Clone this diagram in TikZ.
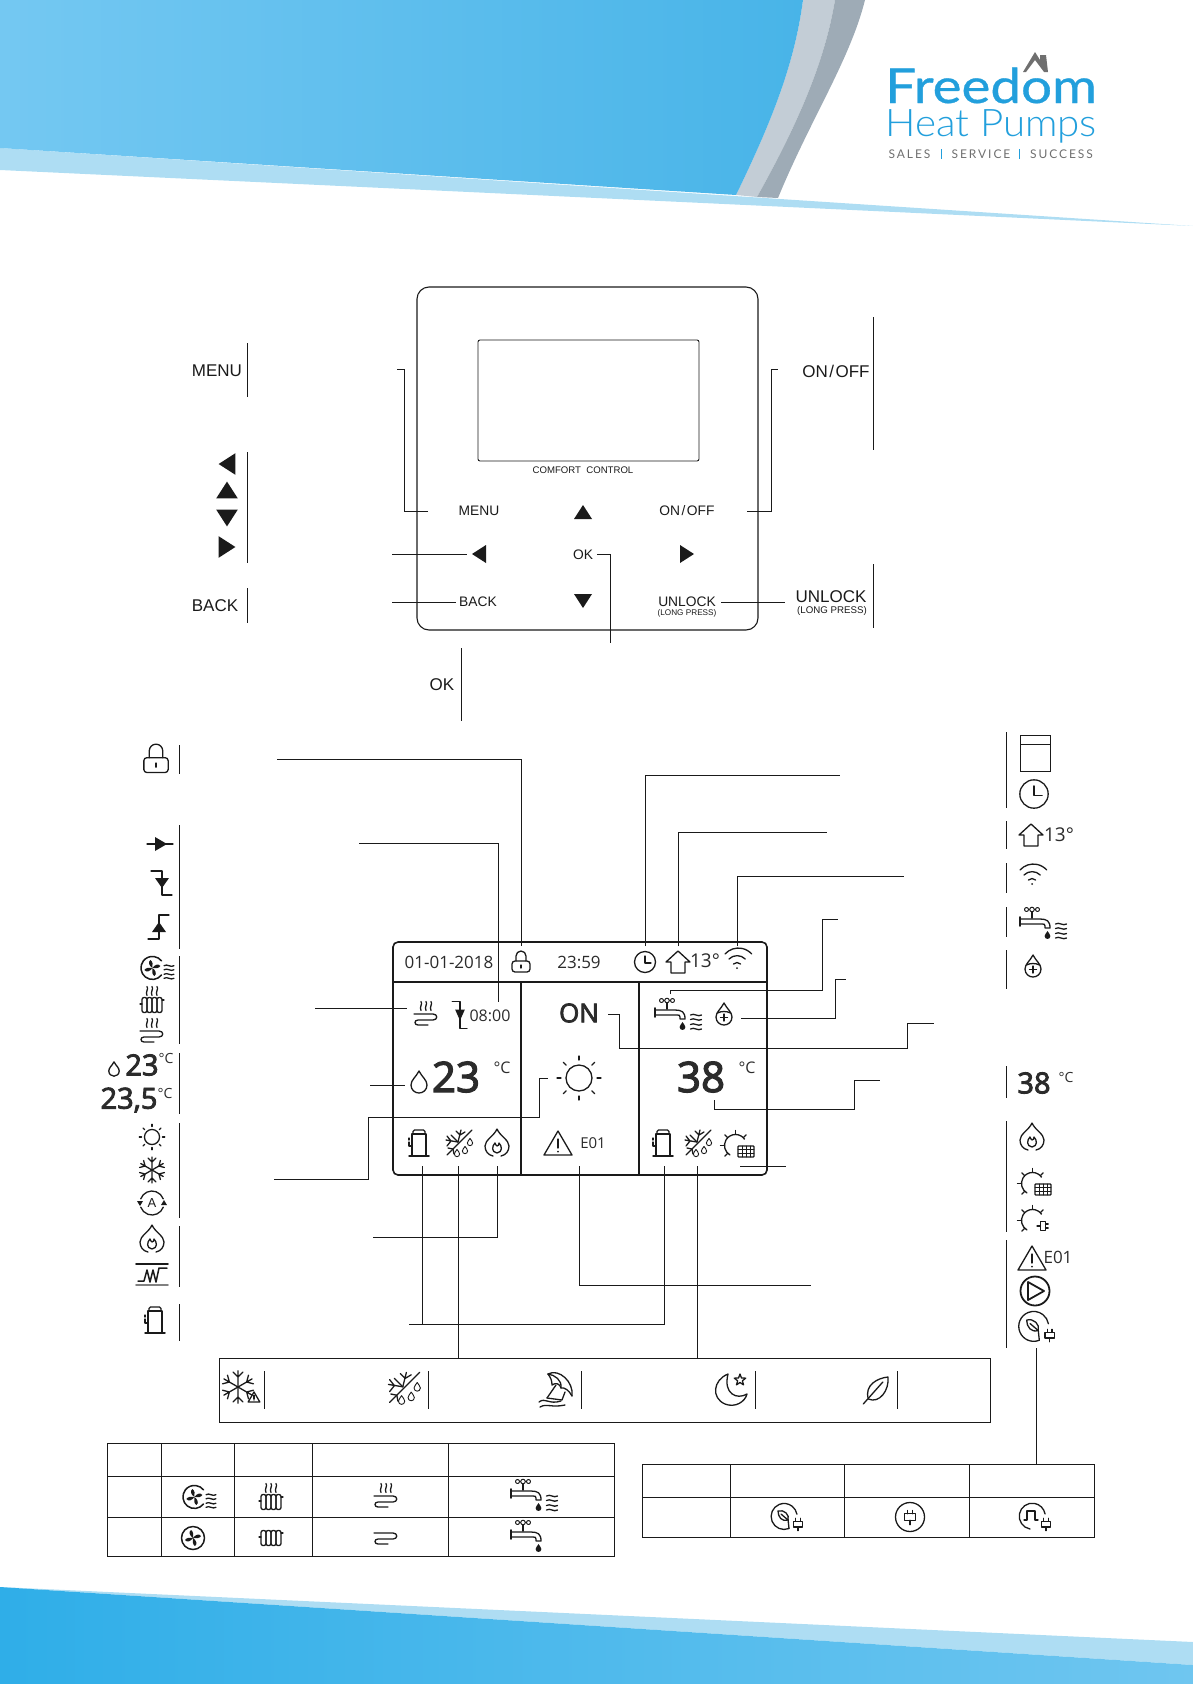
\documentclass[tikz,border=0pt]{standalone}
\usepackage{fontspec}
\setmainfont{Liberation Sans}
\newfontfamily\dispfont{Open Sans}
\newfontfamily\dispsemi[FakeBold=3]{Open Sans}
\newfontfamily\logofont[FakeBold=.6]{Lato}
\newfontfamily\logolight{Lato Light}
\newfontfamily\slogfont[LetterSpace=16]{Lato}
\definecolor{ink}{HTML}{1A1A1A}
\definecolor{lcdink}{HTML}{2B2B2B}
\definecolor{logoblue}{HTML}{229FDC}
\definecolor{logogrey}{HTML}{6F6F6F}
\definecolor{bandblue}{HTML}{AEDDF3}
\definecolor{greylight}{HTML}{C3CDD6}
\definecolor{greydark}{HTML}{9EABB6}
\definecolor{headleft}{HTML}{74C8F2}
\definecolor{headmid}{HTML}{66C3EF}
\definecolor{headright}{HTML}{48B4E8}
\definecolor{footleft}{HTML}{2FAEE8}
\definecolor{footright}{HTML}{6FC6F0}
\newcommand{\droppath}{(0,-11) .. controls (3,-5) and (8,-2) .. (8,3) .. controls (8,8) and (4,11) .. (0,11) .. controls (-4,11) and (-8,8) .. (-8,3) .. controls (-8,-2) and (-3,-5) .. cycle}

\tikzset{
    every pic/.style={color=ink, line width=1.3pt, line join=round, line cap=round},
    triup/.pic={\fill (-9,7) -- (0,-7) -- (9,7) -- cycle;},
    lockicon/.pic={
        \draw (-5,-1) -- (-5,-6) arc[start angle=180, end angle=360, radius=5] -- (5,-1);
        \draw[rounded corners=3pt] (-9,-1) -- (9,-1) -- (9,10) -- (-9,10) -- cycle;
        \draw (0,3) -- (0,6);
    },
    clockicon/.pic={
        \draw (0,0) circle[radius=10.5];
        \draw (0,-6) -- (0,1) -- (6,1);
    },
    houseicon/.pic={\draw (-12,0) -- (0,-11) -- (12,0) -- (7,0) -- (7,11) -- (-7,11) -- (-7,0) -- cycle;},
    wifiicon/.pic={
        \draw (-12,-7) arc[start angle=222, end angle=318, radius=18];
        \draw (-8,-2) arc[start angle=225, end angle=315, radius=11.5];
        \draw (-3.5,3) arc[start angle=225, end angle=315, radius=5];
        \fill (0,7) circle[radius=1];
    },
    wavelets/.pic={
        \foreach \wy in {-7,-2.5,2.5,7}
            \draw (-5.5,\wy) .. controls (-2,\wy-2.5) and (2,\wy+2.5) .. (5.5,\wy);
    },
    tapplain/.pic={
        \draw (-13.5,-14.5) -- (-2.5,-14.5);
        \draw[fill=white, line width=1pt] (-13.5,-14.5) circle[radius=2] (-8,-14.5) circle[radius=2.3] (-2.5,-14.5) circle[radius=2];
        \draw[line width=1.8pt] (-8,-12) -- (-8,-6);
        \draw (-19,-5) -- (0,-5) .. controls (7,-5) and (10,-3) .. (10,4) -- (5,4) -- (5,2) .. controls (5,0) and (4,0) .. (2,0) -- (-19,0);
        \draw[line width=1.8pt] (-20,-7) -- (-20,2);
        \fill[shift={(7.5,11)}, scale=.36] \droppath;
    },
    tapicon/.pic={
        \pic at (0,0) {tapplain};
        \pic at (21,7) {wavelets};
    },
    dropicon/.pic={\draw \droppath;},
    dropplus/.pic={
        \draw \droppath;
        \draw (-6.5,-1) .. controls (-3,-3) and (3,-3) .. (6.5,-1);
        \draw (0,0) -- (0,7) (-3.5,3.5) -- (3.5,3.5);
    },
    sunicon/.pic={
        \draw (0,0) circle[radius=13];
        \foreach \a in {0,45,...,315}
            \draw[rotate=\a] (18,0) -- (22,0);
    },
    snowflake/.pic={
        \foreach \a in {30,90,...,330}
            \draw[rotate=\a] (0,0) -- (13,0) (8,0) -- (12,-4) (8,0) -- (12,4);
    },
    defrost/.pic={
        \draw (-12,12) -- (13,-13);
        \draw (-1,-1) -- (2,-13) (1,-8) -- (-3,-12) (1,-8) -- (6,-11);
        \draw (-1,-1) -- (-13,-3) (-8,-2) -- (-12,-7) (-8,-2) -- (-12,3);
        \draw (-1,-1) -- (-8,-8);
        \draw (-6,6) -- (-11,5) (-6,6) -- (-5,11);
        \draw[shift={(11,-1)}, scale=.33, line width=.9pt] \droppath;
        \draw[shift={(6,7)}, scale=.33, line width=.9pt] \droppath;
        \draw[shift={(-2,10)}, scale=.33, line width=.9pt] \droppath;
    },
    flameicon/.pic={
        \draw (-4,13) .. controls (-9,12) and (-12,8) .. (-12,3) .. controls (-12,-3) and (-3,-7) .. (0,-14) .. controls (3,-7) and (12,-3) .. (12,3) .. controls (12,8) and (9,12) .. (4,13);
        \draw (-2,0) .. controls (-5,3) and (-6,9) .. (0,10) .. controls (6,9) and (5,3) .. (2,0) .. controls (2,2) and (1,3) .. (0,3) .. controls (-1,2) and (-2,1) .. (-2,0);
    },
    compressor/.pic={
        \draw[line width=1.5pt] (-10,13) -- (10,13);
        \draw (-7,13) -- (-7,-9) -- (7,-9) -- (7,13);
        \draw[rounded corners=1.5pt] (-6,-9) -- (-6,-13) -- (6,-13) -- (6,-9);
        \draw (-10,-5) -- (-10,-3) (-10,-1) -- (-10,3) -- (-7,3);
    },
    sunarc/.pic={
        \draw (-7,12) arc[start angle=120, end angle=325, radius=11];
        \foreach \a in {135,180,225,270,315}
            \draw[shift={(-1.5,2.5)}, rotate=-\a] (11,0) -- (15,0);
    },
    solaricon/.pic={
        \pic at (-1,0) {sunarc};
        \draw[rounded corners=.8pt, fill=white] (0,3) rectangle (16,14);
        \draw[line width=.8pt] (0,6.7) -- (16,6.7) (0,10.3) -- (16,10.3) (4,3) -- (4,14) (8,3) -- (8,14) (12,3) -- (12,14);
    },
    plugicon/.pic={
        \draw (-2.5,-6) -- (-2.5,-3) (2.5,-6) -- (2.5,-3) (0,3) -- (0,7);
        \draw (-5,-3) rectangle (5,3);
    },
    sunplug/.pic={
        \pic at (-1,0) {sunarc};
        \pic[rotate=-90, scale=.85, line width=1pt] at (8,8) {plugicon};
    },
    warnicon/.pic={
        \draw (-14,12) -- (0,-12) -- (14,12) -- cycle;
        \draw (0,-4) -- (0,5);
        \fill (0,8.5) circle[radius=1];
    },
    pumpicon/.pic={
        \draw[line width=1.8pt] (0,0) circle[radius=14.5];
        \draw[line width=1.8pt] (-7,-9) -- (9,0) -- (-7,9) -- cycle;
    },
    leafplug/.pic={
        \draw (2,11.5) arc[start angle=68, end angle=350, radius=13] ;
        \draw (2,11.5) -- (1,2);
        \draw (-9,-6) .. controls (-3,-8) and (3,-2) .. (1,3) .. controls (-5,5) and (-9,0) .. (-9,-6) -- cycle;
        \draw (-6,-3) -- (1,3);
        \pic[scale=.95] at (11,7) {plugicon};
    },
    bareplug/.pic={
        \draw (0,0) circle[radius=14.5];
        \pic[scale=1.1] at (0,0) {plugicon};
    },
    pulseplug/.pic={
        \draw (-3,12) arc[start angle=100, end angle=350, radius=13];
        \draw (-9,3) -- (-6,3) -- (-6,-6) -- (2,-6) -- (2,3) -- (5,3);
        \pic[scale=.95] at (13,7) {plugicon};
    },
    fanblades/.pic={
        \foreach \a in {0,90,180,270}
            \fill[rotate=\a] (0,0) .. controls (2,-3) and (6,-5) .. (8,-2) .. controls (7,0) and (3,1) .. (0,0);
    },
    fanplain/.pic={
        \draw[line width=1.5pt] (0,0) circle[radius=11.5];
        \pic at (0,0) {fanblades};
    },
    fanicon/.pic={
        \draw[line width=1.5pt] (3.5,7) arc[start angle=38, end angle=322, radius=11.5];
        \pic at (-5.6,0) {fanblades};
        \pic[scale=.9, line width=1pt] at (11,4) {wavelets};
    },
    heatlines/.pic={
        \foreach \hx in {-5,0,5}
            \draw (\hx,-4.5) .. controls (\hx+2,-2) and (\hx-2,1) .. (\hx,4.5);
    },
    radbody/.pic={
        \draw[rounded corners=2pt] (-10,-7.5) rectangle (-5,7.5);
        \draw[rounded corners=2pt] (-5,-7.5) rectangle (0,7.5);
        \draw[rounded corners=2pt] (0,-7.5) rectangle (5,7.5);
        \draw[rounded corners=2pt] (5,-7.5) rectangle (10,7.5);
        \draw (-12,-1) -- (-10,-1) (10,-5) -- (12,-5);
    },
    radicon/.pic={
        \pic at (0,5) {radbody};
        \pic at (0,-9) {heatlines};
    },
    coilicon/.pic={\draw (-12,-5) -- (7,-5) .. controls (12,-5) and (12,1) .. (7,1) -- (-8,1) .. controls (-12,1) and (-12,6) .. (-8,6) -- (2,6);},
    flooricon/.pic={
        \pic at (0,4) {coilicon};
        \pic at (0,-9) {heatlines};
    },
    valvedown/.pic={
        \draw (-11,-12) -- (0,-12) -- (0,12) -- (10,12);
        \fill (-7,-5) -- (7,-5) -- (0,5) -- cycle;
    },
    valveup/.pic={
        \draw (-11,12) -- (0,12) -- (0,-12) -- (10,-12);
        \fill (-7,5) -- (7,5) -- (0,-5) -- cycle;
    },
    valvemid/.pic={
        \draw (-13,0) -- (13,0);
        \fill (-5,-7) -- (7,0) -- (-5,7) -- cycle;
    },
    autoicon/.pic={
        \draw (200:12) arc[start angle=200, end angle=340, radius=12];
        \draw (20:12) arc[start angle=20, end angle=160, radius=12];
        \fill (-15,-2) -- (-9,-2) -- (-12,3) -- cycle;
        \fill (15,2) -- (9,2) -- (12,-3) -- cycle;
        \node[inner sep=0, font=\fontsize{13}{13}\selectfont] (autoletter) at (0,0) {A};
    },
    heatericon/.pic={
        \draw[line width=1.7pt] (-16,-10) -- (16,-10);
        \draw[line width=1.7pt, gray] (-16,11) -- (16,11);
        \draw[line width=1.5pt] (-14,7) -- (-8,7) -- (-5,-4) -- (-2,8) -- (1,-4) -- (4,8) -- (7,-6) -- (15,-6);
    },
    snowwarn/.pic={
        \pic[scale=1.25] at (-3,-1) {snowflake};
        \pic[scale=.42, line width=1pt] at (13,9) {warnicon};
    },
    umbrella/.pic={
        \draw (-9,-14) .. controls (2,-20) and (17,-6) .. (15,8);
        \draw (-9,-14) .. controls (-6,-10) and (-5,-7) .. (-5,-3) .. controls (-1,-6) and (3,-4) .. (4,0) .. controls (7,-1) and (12,2) .. (15,8);
        \draw (-9,-14) .. controls (-2,-13) and (5,-8) .. (4,0);
        \draw (-1,-3) -- (-10,10);
        \draw (-10,10) -- (5,12) -- (8,4);
        \draw (-18,14) .. controls (-12,9) and (-8,17) .. (4,13);
        \draw (-17,19) .. controls (-10,15) and (-6,20) .. (8,17);
    },
    moonstar/.pic={
        \draw (-3,-16) .. controls (-18,-10) and (-20,8) .. (-6,14) .. controls (4,18) and (14,12) .. (16,4) .. controls (6,10) and (-8,4) .. (-3,-16) -- cycle;
        \draw[shift={(9,-10)}] (0,-6) -- (1.47,-2) -- (5.7,-1.85) -- (2.38,.77) -- (3.53,4.85) -- (0,2.5) -- (-3.53,4.85) -- (-2.38,.77) -- (-5.7,-1.85) -- (-1.47,-2) -- cycle;
    },
    leaficon/.pic={
        \draw (-9,9) .. controls (-14,-5) and (2,-12) .. (14,-13) .. controls (16,0) and (4,14) .. (-9,9) -- cycle;
        \draw (-15,14) -- (8,-8);
    }
}

\begin{document}
\begin{tikzpicture}[
    x=1pt, y=-1pt,
    lead/.style={draw=ink, line width=.7pt},
    sepbar/.style={draw=ink, line width=.7pt},
    frame/.style={draw=ink, line width=.9pt},
    lcdline/.style={draw=ink, line width=1.6pt},
    btn/.style={inner sep=0, text=ink, font=\fontsize{13.8}{15}\selectfont},
    keytxt/.style={inner sep=0, text=ink, font=\fontsize{17}{19}\selectfont},
    press/.style={inner sep=0, text=ink},
    lcdtxt/.style={inner sep=0, text=lcdink, font=\dispfont\fontsize{17}{20}\selectfont},
    lcdbig/.style={inner sep=0, text=lcdink, font=\dispsemi\fontsize{42}{44}\selectfont},
    lstbig/.style={inner sep=0, text=lcdink, font=\dispsemi\fontsize{29}{31}\selectfont},
    degtxt/.style={inner sep=0, text=lcdink, font=\dispfont\fontsize{16}{17}\selectfont}
]
\useasboundingbox (0,0) rectangle (1193,1684);

% Header
\fill[bandblue] (0,148) -- (1193,226) -- (0,170) -- cycle;
\fill[greylight] (803,0) -- (835,0) .. controls (825,60) and (800,120) .. (757,197) -- (736,195) .. controls (775,115) and (795,60) .. (803,0);
\fill[greydark] (835,0) -- (865,0) .. controls (850,60) and (810,120) .. (778,198) -- (757,197) .. controls (800,120) and (825,60) .. (835,0);
\shade[left color=headleft, middle color=headmid, right color=headright] (0,0) -- (803,0) .. controls (795,60) and (775,115) .. (736,195) -- (0,148) -- cycle;

% Footer
\fill[bandblue] (0,1587) -- (1193,1642) -- (1193,1665) -- cycle;
\shade[left color=footleft, right color=footright] (0,1587) -- (1193,1665) -- (1193,1684) -- (0,1684) -- cycle;

% Logo
\fill[logogrey] (1023,72) -- (1035,52) -- (1040,60) -- (1040,55) -- (1046,55) -- (1048,72) -- (1044,72) -- (1035,60) -- (1026,72) -- cycle;
\node[anchor=base west, inner sep=0, text=logoblue, font=\logofont\fontsize{48}{50}\selectfont] (freedom) at (885,103) {\scalebox{1.14}[1]{Freedom}};
\node[anchor=base west, inner sep=0, text=logoblue, font=\logolight\fontsize{38}{40}\selectfont] (heatpumps) at (885,136) {\scalebox{1.06}[1]{Heat Pumps}};
\node[inner sep=0, text=logogrey, font=\slogfont\fontsize{12}{13}\selectfont] (sales) at (909.5,154) {SALES};
\node[inner sep=0, text=logogrey, font=\slogfont\fontsize{12}{13}\selectfont] (service) at (981,154) {SERVICE};
\node[inner sep=0, text=logogrey, font=\slogfont\fontsize{12}{13}\selectfont] (success) at (1061.5,154) {SUCCESS};
\draw[logoblue, line width=.9pt] (941,149) -- (941,159) (1019.5,149) -- (1019.5,159);

% Controller
\draw[frame, line width=1.1pt, rounded corners=12pt] (417,287) rectangle (758,630);
\draw[frame, rounded corners=2pt] (478,340) rectangle (699,461);
\node[inner sep=0, text=ink, font=\fontsize{9.6}{10}\selectfont] (brand) at (583,470) {COMFORT\ \ CONTROL};
\node[btn] (menubtn) at (479,511) {MENU};
\node[btn] (onoffbtn) at (687,511) {ON\kern1.5pt/\kern1.5pt OFF};
\node[btn] (okbtn) at (583,555) {OK};
\node[btn] (backbtn) at (478,602) {BACK};
\node[btn] (unlockbtn) at (687,602) {UNLOCK};
\node[press, font=\fontsize{8.2}{9}\selectfont] (unlockhint) at (687,613) {(LONG PRESS)};
\pic at (583,512) {triup};
\pic[rotate=90] at (479,554) {triup};
\pic[rotate=-90] at (687,554) {triup};
\pic[rotate=180] at (583,601) {triup};

% Controller leaders
\coordinate (menuA) at (428,511);
\coordinate (menuB) at (397,369);
\coordinate (onoffA) at (747,511);
\coordinate (onoffB) at (778,369);
\coordinate (leftA) at (392,554);
\coordinate (leftB) at (467,554);
\coordinate (backA) at (392,602);
\coordinate (backB) at (456,602);
\coordinate (unlockA) at (721,602);
\coordinate (unlockB) at (785,602);
\coordinate (okA) at (597,554);
\coordinate (okB) at (610,643);
\draw[lead] (menuA) -- ++(-24,0) |- (menuB);
\draw[lead] (onoffA) -- ++(24,0) |- (onoffB);
\draw[lead] (leftA) -- (leftB);
\draw[lead] (backA) -- (backB);
\draw[lead] (unlockA) -- (unlockB);
\draw[lead] (okA) -| (okB);

% Keys
\node[keytxt] (menukey) at (217,371) {MENU};
\draw[sepbar] (247,343) -- (247,397);
\pic[rotate=90, scale=1.2] at (227,464) {triup};
\pic[scale=1.2] at (227,490) {triup};
\pic[rotate=180, scale=1.2] at (227,518) {triup};
\pic[rotate=-90, scale=1.2] at (227,547) {triup};
\draw[sepbar] (247,452) -- (247,563);
\node[keytxt] (backkey) at (215,606) {BACK};
\draw[sepbar] (247,588) -- (247,623);
\node[keytxt] (okkey) at (442,685) {OK};
\draw[sepbar] (461.5,648) -- (461.5,721);
\node[keytxt] (onoffkey) at (836,371) {ON\kern1.5pt/\kern1.5pt OFF};
\draw[sepbar] (873,317) -- (873,450);
\node[keytxt] (unlockkey) at (831,597) {UNLOCK};
\node[press, font=\fontsize{9.7}{10}\selectfont] (unlockhintkey) at (832,611) {(LONG PRESS)};
\draw[sepbar] (873,564) -- (873,628);

% Display
\draw[lcdline, rounded corners=5pt] (393,942) rectangle (767,1175);
\draw[lcdline] (393,982) -- (767,982);
\draw[lcdline] (521,982) -- (521,1175);
\draw[lcdline] (639,982) -- (639,1175);
\node[lcdtxt] (datetxt) at (449,962) {01-01-2018};
\pic at (521,962) {lockicon};
\node[lcdtxt] (timetxt) at (579,962) {23:59};
\pic at (645,962) {clockicon};
\pic at (678,962) {houseicon};
\node[lcdtxt, font=\dispfont\fontsize{19}{20}\selectfont] (outtemp) at (705,961) {13°};
\pic at (737,961) {wifiicon};
\pic at (426,1015) {flooricon};
\pic[xscale=.7, yscale=1.1] at (460,1015) {valvedown};
\node[lcdtxt, font=\dispfont\fontsize{16}{18}\selectfont] (starttime) at (490,1016) {08:00};
\pic at (419,1082) {dropicon};
\node[lcdbig] (roomtemp) at (456,1077) {23};
\node[degtxt] (roomdeg) at (502,1068) {°C};
\pic at (419,1143) {compressor};
\pic at (459,1143) {defrost};
\pic at (497,1143) {flameicon};
\node[lcdtxt, font=\dispsemi\fontsize{26}{28}\selectfont] (onstate) at (579,1013) {ON};
\pic[line width=1.7pt] at (579,1078) {sunicon};
\pic at (558,1143) {warnicon};
\node[lcdtxt, font=\dispfont\fontsize{15}{17}\selectfont] (errcode) at (593,1143) {E01};
\pic at (675,1015) {tapicon};
\pic at (724,1014) {dropplus};
\node[lcdbig] (tanktemp) at (701,1077) {38};
\node[degtxt] (tankdeg) at (747,1068) {°C};
\pic at (663,1143) {compressor};
\pic at (698,1143) {defrost};
\pic at (738,1143) {solaricon};

% Display leaders
\coordinate (lockA) at (277,759);
\coordinate (lockB) at (521,946);
\coordinate (timerA) at (359,843);
\coordinate (timerB) at (498,1002);
\coordinate (floorA) at (315,1008);
\coordinate (floorB) at (407,1008);
\coordinate (dropA) at (370,1085);
\coordinate (dropB) at (405,1085);
\coordinate (sunA) at (274,1179);
\coordinate (sunB) at (548,1078);
\coordinate (flameA) at (373,1237);
\coordinate (flameB) at (497,1166);
\coordinate (compA) at (422,1166);
\coordinate (compB) at (664,1166);
\coordinate (compC) at (409,1324);
\coordinate (defA) at (458,1166);
\coordinate (defB) at (697,1166);
\coordinate (stripA) at (458,1358);
\coordinate (stripB) at (697,1358);
\coordinate (warnA) at (579,1166);
\coordinate (warnB) at (811,1285);
\coordinate (solarA) at (740,1166);
\coordinate (solarB) at (786,1166);
\coordinate (tankA) at (714,1100);
\coordinate (tankB) at (880,1080);
\coordinate (tapA) at (670,994);
\coordinate (tapB) at (838,919);
\coordinate (plusA) at (741,1018);
\coordinate (plusB) at (846,979);
\coordinate (onA) at (608,1014);
\coordinate (onB) at (934,1023);
\coordinate (clockA) at (645,946);
\coordinate (clockB) at (840,775);
\coordinate (houseA) at (678,946);
\coordinate (houseB) at (827,832);
\coordinate (wifiA) at (737,946);
\coordinate (wifiB) at (904,876);
\draw[lead] (lockA) -| (lockB);
\draw[lead] (timerA) -| (timerB);
\draw[lead] (floorA) -- (floorB);
\draw[lead] (dropA) -- (dropB);
\draw[lead] (sunA) -- ++(94,0) -- ++(0,-62) -- ++(171,0) |- (sunB);
\draw[lead] (flameA) -| (flameB);
\draw[lead] (compA) |- (compC);
\draw[lead] (compB) |- (compC);
\draw[lead] (defA) -- (stripA);
\draw[lead] (defB) -- (stripB);
\draw[lead] (warnA) |- (warnB);
\draw[lead] (solarA) -- (solarB);
\draw[lead] (tankA) -- ++(0,9) -- ++(140,0) |- (tankB);
\draw[lead] (tapA) -- ++(0,-4) -- ++(152,0) |- (tapB);
\draw[lead] (plusA) -- ++(94,0) |- (plusB);
\draw[lead] (onA) -- ++(11,0) -- ++(0,34) -- ++(288,0) |- (onB);
\draw[lead] (clockA) |- (clockB);
\draw[lead] (houseA) |- (houseB);
\draw[lead] (wifiA) |- (wifiB);

% Left list
\pic[scale=1.35, line width=1.5pt] at (156,759) {lockicon};
\draw[sepbar] (179,745) -- (179,774);
\pic at (160,844) {valvemid};
\pic at (162,883) {valvedown};
\pic at (159,927) {valveup};
\draw[sepbar] (179,825) -- (179,949);
\pic at (158,968) {fanicon};
\pic at (152,1000) {radicon};
\pic at (152,1032) {flooricon};
\draw[sepbar] (179,956) -- (179,1044);
\pic[scale=.65, line width=1pt] at (114,1069) {dropicon};
\node[lstbig] (settemp) at (142,1065) {23};
\node[degtxt, font=\dispfont\fontsize{14}{15}\selectfont] (setdeg) at (166,1058) {°C};
\node[lstbig] (halftemp) at (129,1100) {23,5};
\node[degtxt, font=\dispfont\fontsize{14}{15}\selectfont] (halfdeg) at (165,1093) {°C};
\draw[sepbar] (179,1053) -- (179,1114);
\pic[scale=.58, line width=1.1pt] at (152,1137) {sunicon};
\pic at (152,1170) {snowflake};
\pic at (152,1203) {autoicon};
\draw[sepbar] (179,1123) -- (179,1218);
\pic at (152,1239) {flameicon};
\pic at (152,1274) {heatericon};
\draw[sepbar] (179,1226) -- (179,1287);
\pic at (155,1320) {compressor};
\draw[sepbar] (179,1304) -- (179,1341);

% Right list
\draw[frame] (1020,735) rectangle (1050,771);
\draw[frame] (1020,744) -- (1050,744);
\pic[scale=1.35, line width=1.6pt] at (1034,794) {clockicon};
\draw[sepbar] (1006,732) -- (1006,808);
\pic at (1031,835) {houseicon};
\node[lcdtxt, font=\dispfont\fontsize{19}{21}\selectfont] (outlist) at (1059,835) {13°};
\draw[sepbar] (1006,821) -- (1006,849);
\pic at (1032,877) {wifiicon};
\draw[sepbar] (1006,863) -- (1006,893);
\pic at (1040,924) {tapicon};
\draw[sepbar] (1006,907) -- (1006,937);
\pic at (1033,966) {dropplus};
\draw[sepbar] (1006,950) -- (1006,989);
\node[lstbig] (tanklist) at (1034,1083) {38};
\node[degtxt, font=\dispfont\fontsize{14}{15}\selectfont] (tankdeglist) at (1066,1077) {°C};
\draw[sepbar] (1006,1066) -- (1006,1098);
\pic at (1032,1137) {flameicon};
\pic at (1035,1181) {solaricon};
\pic at (1035,1218) {sunplug};
\draw[sepbar] (1006,1121) -- (1006,1232);
\pic at (1032,1258) {warnicon};
\node[lcdtxt, font=\dispfont\fontsize{17}{19}\selectfont] (errlist) at (1058,1257) {E01};
\pic at (1035,1291) {pumpicon};
\pic[scale=1.15, line width=1.6pt] at (1037,1327) {leafplug};
\draw[sepbar] (1006,1240) -- (1006,1348);
\coordinate (plugA) at (1036,1348);
\coordinate (plugB) at (1036,1464);
\draw[lead] (plugA) -- (plugB);

% Strip
\draw[frame] (219,1358) rectangle (990,1422);
\pic at (241,1388) {snowwarn};
\draw[sepbar] (264,1371) -- (264,1409);
\pic[scale=1.2] at (404,1388) {defrost};
\draw[sepbar] (428,1371) -- (428,1409);
\pic at (557,1388) {umbrella};
\draw[sepbar] (581,1371) -- (581,1409);
\pic at (731,1390) {moonstar};
\draw[sepbar] (755,1371) -- (755,1409);
\pic[xscale=.85, line width=1pt] at (876,1390) {leaficon};
\draw[sepbar] (897,1371) -- (897,1409);

% Table left
\draw[frame] (107,1443) rectangle (614,1556);
\draw[frame] (107,1476) -- (614,1476);
\draw[frame] (107,1517) -- (614,1517);
\draw[frame] (161,1443) -- (161,1556);
\draw[frame] (234,1443) -- (234,1556);
\draw[frame] (312,1443) -- (312,1556);
\draw[frame] (448,1443) -- (448,1556);
\pic at (200,1497) {fanicon};
\pic at (271,1497) {radicon};
\pic at (386,1497) {flooricon};
\pic at (531,1496) {tapicon};
\pic at (193,1538) {fanplain};
\pic at (271,1538) {radbody};
\pic at (386,1538) {coilicon};
\pic at (531,1537) {tapplain};

% Table right
\draw[frame] (642,1464) rectangle (1094,1537);
\draw[frame] (642,1497) -- (1094,1497);
\draw[frame] (730,1464) -- (730,1537);
\draw[frame] (844,1464) -- (844,1537);
\draw[frame] (969,1464) -- (969,1537);
\pic at (787,1517) {leafplug};
\pic at (910,1517) {bareplug};
\pic at (1033,1517) {pulseplug};

\end{tikzpicture}
\end{document}
